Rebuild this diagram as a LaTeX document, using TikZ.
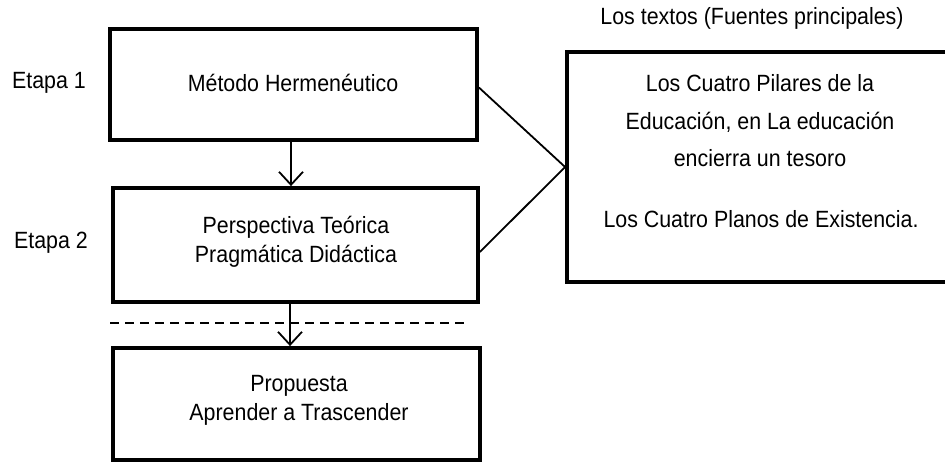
\documentclass[tikz,border=0pt]{standalone}
\usepackage{fontspec}
\setmainfont{Liberation Sans}[FakeStretch=0.91]
\usetikzlibrary{arrows.meta,calc}
\begin{document}
\begin{tikzpicture}[x=1pt,y=-1pt,
  box/.style={draw,line width=3.8pt,rectangle,inner sep=0pt},
  txt/.style={font=\fontsize{23.5}{29}\selectfont,align=center,inner sep=0pt},
  conn/.style={line width=1.8pt},
  arr/.style={line width=1.8pt,-{Straight Barb[length=13pt,width=24pt,line width=1.8pt]}}]
\useasboundingbox (0,0) rectangle (945,462);
\node[box,minimum width=367pt,minimum height=111pt] (b1) at (293.5,84.5) {};
\node[box,minimum width=365pt,minimum height=114pt] (b2) at (295.5,245) {};
\node[box,minimum width=367pt,minimum height=112pt] (b3) at (296.5,404) {};
\node[box,minimum width=382pt,minimum height=230pt] (rb) at (758,167) {};
\node[txt] (t1) at (293,83) {Método Hermenéutico};
\node[txt] (t2) at (296,242) {Perspectiva Teórica\\Pragmática Didáctica};
\node[txt] (t3) at (299,400) {Propuesta\\Aprender a Trascender};
\node[txt] (e1) at (49,83) {Etapa 1};
\node[txt] (e2) at (51,243) {Etapa 2};
\node[txt] (tt) at (752,18) {Los textos (Fuentes principales)};
\node[txt,font=\fontsize{23.5}{37.5}\selectfont] (r1) at (760,121) {Los Cuatro Pilares de la\\Educación, en La educación\\encierra un tesoro};
\node[txt] (r2) at (761,219) {Los Cuatro Planos de Existencia.};
\draw[arr] (b1.south -| 291,0) -- (b2.north -| 291,0);
\draw[arr] (b2.south -| 290,0) -- (b3.north -| 290,0);
\coordinate (dl) at (110,323);
\coordinate (dr) at (468,323);
\draw[line width=1.2pt,dash pattern=on 9pt off 6pt] (dl) -- (dr);
\draw[conn] ($(b1.east)+(0,3)$) -- (rb.west);
\draw[conn] ($(b2.east)+(0,7)$) -- (rb.west);
\end{tikzpicture}
\end{document}
